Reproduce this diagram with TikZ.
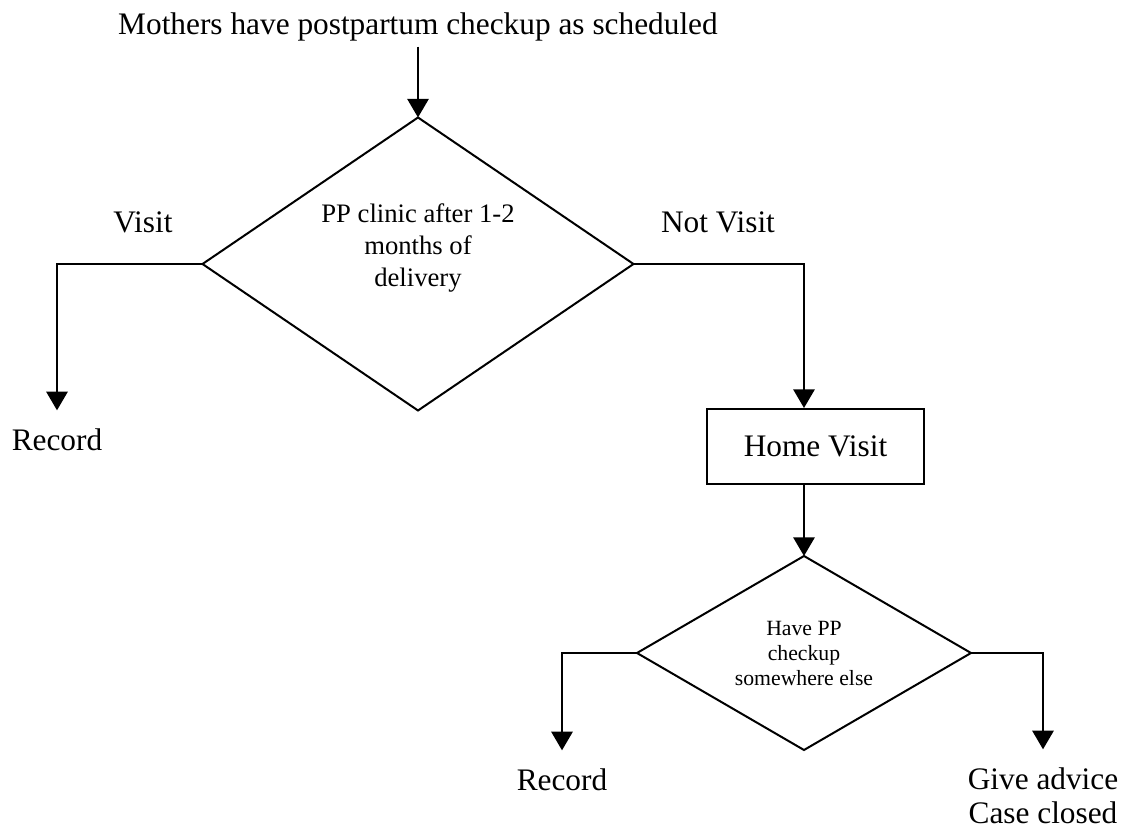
\documentclass[tikz,border=0pt]{standalone}
\usepackage{fontspec}
\setmainfont{Liberation Serif}
\usetikzlibrary{shapes.geometric,arrows.meta}

\begin{document}
\begin{tikzpicture}
  [x=0.75pt,y=-0.75pt,
   line width=1.5pt,
   arr/.style={-{Triangle[length=14pt,width=16pt]}},
   txt/.style={font=\fontsize{23.5}{25.5}\selectfont, inner sep=0pt},
   outcome/.style={txt, align=center, outer ysep=14pt},
   decision/.style={draw, diamond, aspect=1.7, outer sep=0pt, inner sep=0pt}]
  \useasboundingbox (0,0) rectangle (1122,830);

  \node[txt, outer ysep=4pt] (start) at (418,27) {Mothers have postpartum checkup as scheduled};

  \node[decision, minimum width=323.25pt, minimum height=219.75pt] (d1) at (418,264) {};
  \node[font=\fontsize{20}{24}\selectfont, align=center, inner sep=0pt] (d1txt) at (418,248) {PP clinic after 1-2\\months of\\delivery};

    \node[txt] (visit) at (143,222) {Visit};
    \node[txt] (notvisit) at (718,222) {Not Visit};
    \node[outcome] (rec1) at (57,440) {Record};

  \node[draw, txt, minimum width=162.75pt, minimum height=56.25pt] (hv) at (815.5,446.5) {Home Visit};

  \node[decision, minimum width=250.5pt, minimum height=145.5pt, align=center,
        font=\fontsize{16.3}{18.75}\selectfont] (d2) at (804,653) {Have PP\\checkup\\somewhere else};

    \node[outcome] (rec2) at (562,780) {Record};
    \node[outcome] (adv) at (1043,796) {Give advice\\Case closed};

  \draw[arr] (start.south) -- (d1.north);
  \draw[arr] (d1.west) -| (rec1.north);
  \draw[arr] (d1.east) -| (d2.north |- hv.north);
  \draw[arr] (d2.north |- hv.south) -- (d2.north);
  \draw[arr] (d2.west) -| (rec2.north);
  \draw[arr] (d2.east) -| (adv.north);
\end{tikzpicture}
\end{document}
